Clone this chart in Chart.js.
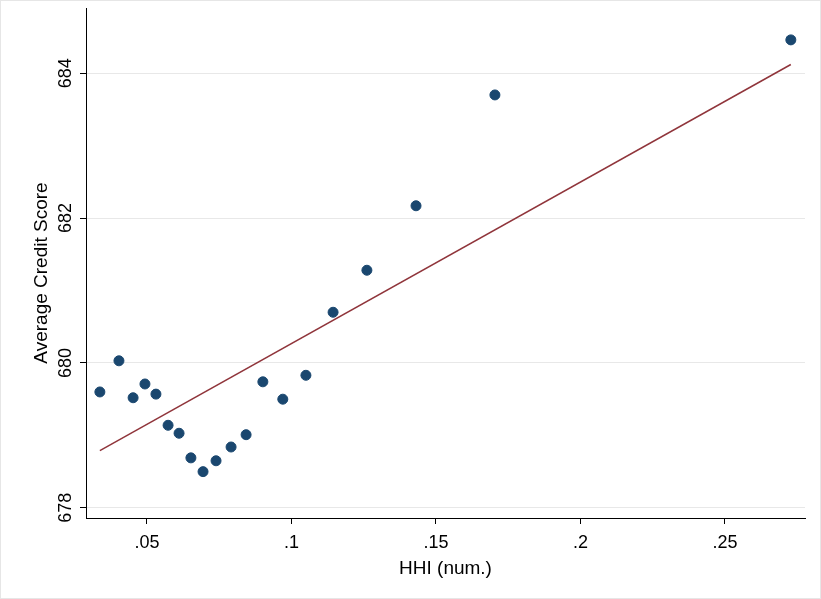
<!DOCTYPE html>
<html><head><meta charset="utf-8">
<script src="https://cdn.jsdelivr.net/npm/chart.js@4"></script>
<style>html,body{margin:0;padding:0;background:#fff}#w{width:821px;height:599px;position:relative;box-sizing:border-box;border:1px solid #e6e6e6}</style>
</head><body><div id="w"><canvas id="c"></canvas></div>
<script>
const hhi=[0.0337,0.0403,0.0452,0.0493,0.0531,0.0573,0.0611,0.0652,0.0694,0.0739,0.0791,0.0843,0.0901,0.0970,0.1050,0.1144,0.1261,0.1431,0.1704,0.2728];
const score=[679.60,680.03,679.52,679.71,679.57,679.14,679.03,678.69,678.50,678.65,678.84,679.01,679.74,679.50,679.83,680.70,681.28,682.17,683.70,684.46];
const fitX=[0.0337,0.2728];
const fitY=[678.79,684.12];
const xTicks=[0.05,0.1,0.15,0.2,0.25];
const xTickLabels=['.05','.1','.15','.2','.25'];
const yTicks=[678,680,682,684];
const F='"Liberation Sans", Arial, sans-serif';
const yLab={id:'yLab',afterDraw(c){const g=c.ctx,s=c.scales.y;g.save();g.fillStyle='#000';g.font='18px '+F;g.textAlign='center';g.textBaseline='middle';
for(const v of yTicks){const p=s.getPixelForValue(v);g.save();g.translate(s.right-20,p);g.rotate(-Math.PI/2);g.fillText(String(v),0,0);g.restore();}
g.font='19px '+F;
g.save();g.translate(41,(c.chartArea.top+c.chartArea.bottom)/2+10);g.rotate(-Math.PI/2);g.fillText('Average Credit Score',0,0);g.restore();
g.restore();}};
new Chart(document.getElementById('c'),{
type:'scatter',
data:{datasets:[
{data:hhi.map((x,i)=>({x,y:score[i]})),backgroundColor:'#1a476f',borderColor:'#1a476f',pointRadius:5,pointHoverRadius:5},
{type:'line',data:fitX.map((x,i)=>({x,y:fitY[i]})),borderColor:'#90353b',borderWidth:1.5,pointRadius:0,fill:false}
]},
options:{responsive:true,maintainAspectRatio:false,animation:false,
layout:{padding:{top:7,right:15,left:0,bottom:0}},
plugins:{legend:{display:false},tooltip:{enabled:false}},
scales:{
x:{type:'linear',min:0.0289,max:0.2777,afterFit(s){s.height=80;},
afterBuildTicks(s){s.ticks=xTicks.map(v=>({value:v}));},
ticks:{color:'#000',font:{size:18,family:F},maxRotation:0,padding:8,callback:(v)=>xTickLabels[xTicks.indexOf(v)]??''},
grid:{display:true,drawOnChartArea:false,drawTicks:true,tickLength:6,color:'#000'},border:{color:'#000'},
title:{display:true,text:'HHI (num.)',color:'#000',font:{size:19,family:F},padding:{top:0,bottom:18}}},
y:{type:'linear',min:677.86,max:684.9,afterFit(s){s.width=85;},
afterBuildTicks(s){s.ticks=yTicks.map(v=>({value:v}));},
ticks:{display:false},
grid:{color:'#e8e8e8',drawTicks:true,tickLength:6,tickColor:'#000'},border:{color:'#000'}}
}},plugins:[yLab]});
</script></body></html>
